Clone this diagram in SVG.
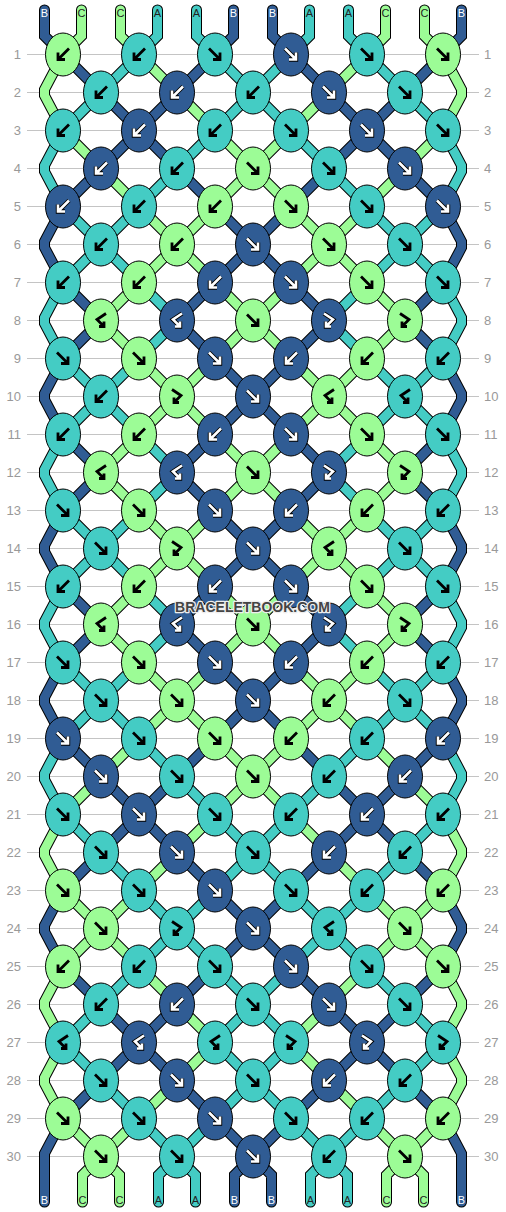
<svg xmlns="http://www.w3.org/2000/svg" xmlns:xlink="http://www.w3.org/1999/xlink" width="506" height="1212" viewBox="0 0 506 1212">
<style>
.ln{fill:none;stroke:#c4c4c4;stroke-width:1}
.lb{font-family:'Liberation Sans',Arial,sans-serif;font-size:13px;fill:#999}
.lbr{text-anchor:start}
.lbl{text-anchor:end}
.ol{fill:none;stroke:#000;stroke-width:11}
.st{fill:none;stroke-width:9}
.rc{stroke-linecap:round}
.sa{stroke:#44ccc4}.sb{stroke:#305c94}.sc{stroke:#9cfc96}
.ka{fill:#44ccc4}.kb{fill:#305c94}.kc{fill:#9cfc96}
ellipse{stroke:#000;stroke-width:1}
.tl{font-family:'Liberation Sans',Arial,sans-serif;font-size:11px;text-anchor:middle}
.tw{fill:#fff}.td{fill:#222}
.wm{font-family:'Liberation Sans',Arial,sans-serif;font-size:14px;font-weight:bold;text-anchor:middle;fill:#444;stroke:#eee;stroke-width:2.5;paint-order:stroke;stroke-linejoin:round}
</style>
<defs>
<path id="pB" fill="none" d="M6,-6L-5,5M-5,-2L-5,5L2,5"/>
<path id="pF" fill="none" d="M-6,-6L5,5M5,-2L5,5L-2,5"/>
<path id="pFB" fill="none" d="M-5,-7L4,-1L-3,6M-3,1L-3,6L2,6"/>
<path id="pBF" fill="none" d="M5,-7L-4,-1L3,6M3,1L3,6L-2,6"/>
<use id="Bk" href="#pB" stroke="#000" stroke-width="2.8"/>
<use id="Fk" href="#pF" stroke="#000" stroke-width="2.8"/>
<use id="FBk" href="#pFB" stroke="#000" stroke-width="2.8"/>
<use id="BFk" href="#pBF" stroke="#000" stroke-width="2.8"/>
<g id="Bw"><use href="#pB" stroke="#000" stroke-width="4.4"/><use href="#pB" stroke="#fff" stroke-width="2.6"/></g>
<g id="Fw"><use href="#pF" stroke="#000" stroke-width="4.4"/><use href="#pF" stroke="#fff" stroke-width="2.6"/></g>
<g id="FBw"><use href="#pFB" stroke="#000" stroke-width="4.4"/><use href="#pFB" stroke="#fff" stroke-width="2.6"/></g>
<g id="BFw"><use href="#pBF" stroke="#000" stroke-width="4.4"/><use href="#pBF" stroke="#fff" stroke-width="2.6"/></g>
<path id="oAll" d="M63 0L101 38L139 0L177 38L215 0L253 38L291 0L329 38L367 0L405 38L443 0"/>
<path id="eAll" d="M63 38L101 0L139 38L177 0L215 38L253 0L291 38L329 0L367 38L405 0L443 38"/>
<path id="edLR" d="M63 0L44.5 35L44.5 41L63 76M443 0L461.5 35L461.5 41L443 76"/>
<path id="oX" d="M63 0L101 38M139 0L101 38M367 0L405 38M443 0L405 38"/>
<path id="oY" d="M139 0L177 38M215 0L177 38M291 0L329 38M367 0L329 38"/>
<path id="oZ" d="M215 0L253 38M291 0L253 38"/>
<path id="oP" d="M63 0L101 38M215 0L177 38M291 0L329 38M443 0L405 38"/>
<path id="oQ" d="M139 0L101 38M215 0L253 38M291 0L253 38M367 0L405 38"/>
<path id="oR" d="M139 0L177 38M367 0L329 38"/>
<path id="oU" d="M63 0L101 38M215 0L253 38M291 0L253 38M443 0L405 38"/>
<path id="oV" d="M139 0L101 38M139 0L177 38M367 0L329 38M367 0L405 38"/>
<path id="oW" d="M215 0L177 38M291 0L329 38"/>
<path id="eX" d="M101 0L63 38M101 0L139 38M405 0L367 38M405 0L443 38"/>
<path id="eY" d="M177 0L139 38M177 0L215 38M329 0L291 38M329 0L367 38"/>
<path id="eZ" d="M253 0L215 38M253 0L291 38"/>
<path id="eP" d="M101 0L63 38M177 0L215 38M329 0L291 38M405 0L443 38"/>
<path id="eQ" d="M101 0L139 38M253 0L215 38M253 0L291 38M405 0L367 38"/>
<path id="eR" d="M177 0L139 38M329 0L367 38"/>
<path id="eU" d="M101 0L63 38M253 0L215 38M253 0L291 38M405 0L443 38"/>
<path id="eV" d="M101 0L139 38M177 0L139 38M329 0L367 38M405 0L367 38"/>
<path id="eW" d="M177 0L215 38M329 0L291 38"/>
<g id="goS0"><use href="#oX" class="sc"/><use href="#oY" class="sa"/><use href="#oZ" class="sb"/></g>
<g id="goS1"><use href="#oP" class="sb"/><use href="#oQ" class="sa"/><use href="#oR" class="sc"/></g>
<g id="goS2"><use href="#oU" class="sa"/><use href="#oV" class="sb"/><use href="#oW" class="sc"/></g>
<g id="goS3"><use href="#oU" class="sc"/><use href="#oV" class="sb"/><use href="#oW" class="sa"/></g>
<g id="goS4"><use href="#oP" class="sb"/><use href="#oQ" class="sc"/><use href="#oR" class="sa"/></g>
<g id="goS5"><use href="#oX" class="sa"/><use href="#oY" class="sc"/><use href="#oZ" class="sb"/></g>
<g id="geS0"><use href="#eX" class="sc"/><use href="#eY" class="sa"/><use href="#eZ" class="sb"/></g>
<g id="geS1"><use href="#eP" class="sb"/><use href="#eQ" class="sa"/><use href="#eR" class="sc"/></g>
<g id="geS2"><use href="#eU" class="sa"/><use href="#eV" class="sb"/><use href="#eW" class="sc"/></g>
<g id="geS3"><use href="#eU" class="sc"/><use href="#eV" class="sb"/><use href="#eW" class="sa"/></g>
<g id="geS4"><use href="#eP" class="sb"/><use href="#eQ" class="sc"/><use href="#eR" class="sa"/></g>
<g id="geS5"><use href="#eX" class="sa"/><use href="#eY" class="sc"/><use href="#eZ" class="sb"/></g>
</defs>
<rect width="506" height="1212" fill="#fff"/>
<g id="rows">
<path class="ln" d="M27 54.5H479M27 92.5H479M27 130.5H479M27 168.5H479M27 206.5H479M27 244.5H479M27 282.5H479M27 320.5H479M27 358.5H479M27 396.5H479M27 434.5H479M27 472.5H479M27 510.5H479M27 548.5H479M27 586.5H479M27 624.5H479M27 662.5H479M27 700.5H479M27 738.5H479M27 776.5H479M27 814.5H479M27 852.5H479M27 890.5H479M27 928.5H479M27 966.5H479M27 1004.5H479M27 1042.5H479M27 1080.5H479M27 1118.5H479M27 1156.5H479"/>
<g class="lb lbl">
<text x="21" y="59.3">1</text><text x="21" y="97.3">2</text><text x="21" y="135.3">3</text><text x="21" y="173.3">4</text><text x="21" y="211.3">5</text><text x="21" y="249.3">6</text><text x="21" y="287.3">7</text><text x="21" y="325.3">8</text><text x="21" y="363.3">9</text><text x="21" y="401.3">10</text><text x="21" y="439.3">11</text><text x="21" y="477.3">12</text><text x="21" y="515.3">13</text><text x="21" y="553.3">14</text><text x="21" y="591.3">15</text><text x="21" y="629.3">16</text><text x="21" y="667.3">17</text><text x="21" y="705.3">18</text><text x="21" y="743.3">19</text><text x="21" y="781.3">20</text><text x="21" y="819.3">21</text><text x="21" y="857.3">22</text><text x="21" y="895.3">23</text><text x="21" y="933.3">24</text><text x="21" y="971.3">25</text><text x="21" y="1009.3">26</text><text x="21" y="1047.3">27</text><text x="21" y="1085.3">28</text><text x="21" y="1123.3">29</text><text x="21" y="1161.3">30</text>
</g>
<g class="lb lbr">
<text x="484" y="59.3">1</text><text x="484" y="97.3">2</text><text x="484" y="135.3">3</text><text x="484" y="173.3">4</text><text x="484" y="211.3">5</text><text x="484" y="249.3">6</text><text x="484" y="287.3">7</text><text x="484" y="325.3">8</text><text x="484" y="363.3">9</text><text x="484" y="401.3">10</text><text x="484" y="439.3">11</text><text x="484" y="477.3">12</text><text x="484" y="515.3">13</text><text x="484" y="553.3">14</text><text x="484" y="591.3">15</text><text x="484" y="629.3">16</text><text x="484" y="667.3">17</text><text x="484" y="705.3">18</text><text x="484" y="743.3">19</text><text x="484" y="781.3">20</text><text x="484" y="819.3">21</text><text x="484" y="857.3">22</text><text x="484" y="895.3">23</text><text x="484" y="933.3">24</text><text x="484" y="971.3">25</text><text x="484" y="1009.3">26</text><text x="484" y="1047.3">27</text><text x="484" y="1085.3">28</text><text x="484" y="1123.3">29</text><text x="484" y="1161.3">30</text>
</g>
</g>
<g id="connectors">
<g class="ol">
<use href="#oAll" y="54.5"/><use href="#oAll" y="130.5"/><use href="#oAll" y="206.5"/><use href="#oAll" y="282.5"/><use href="#oAll" y="358.5"/><use href="#oAll" y="434.5"/><use href="#oAll" y="510.5"/><use href="#oAll" y="586.5"/><use href="#oAll" y="662.5"/><use href="#oAll" y="738.5"/><use href="#oAll" y="814.5"/><use href="#oAll" y="890.5"/><use href="#oAll" y="966.5"/><use href="#oAll" y="1042.5"/><use href="#oAll" y="1118.5"/>
<use href="#eAll" y="92.5"/><use href="#eAll" y="168.5"/><use href="#eAll" y="244.5"/><use href="#eAll" y="320.5"/><use href="#eAll" y="396.5"/><use href="#eAll" y="472.5"/><use href="#eAll" y="548.5"/><use href="#eAll" y="624.5"/><use href="#eAll" y="700.5"/><use href="#eAll" y="776.5"/><use href="#eAll" y="852.5"/><use href="#eAll" y="928.5"/><use href="#eAll" y="1004.5"/><use href="#eAll" y="1080.5"/>
<use href="#edLR" y="54.5"/><use href="#edLR" y="130.5"/><use href="#edLR" y="206.5"/><use href="#edLR" y="282.5"/><use href="#edLR" y="358.5"/><use href="#edLR" y="434.5"/><use href="#edLR" y="510.5"/><use href="#edLR" y="586.5"/><use href="#edLR" y="662.5"/><use href="#edLR" y="738.5"/><use href="#edLR" y="814.5"/><use href="#edLR" y="890.5"/><use href="#edLR" y="966.5"/><use href="#edLR" y="1042.5"/>
<path class="rc" d="M63 1118.5L44.5 1153.5L44.5 1202M443 1118.5L461.5 1153.5L461.5 1202"/>
<path class="rc" d="M44.5 10V36L63 54.5M233.5 10V36L215 54.5M272.5 10V36L291 54.5M461.5 10V36L443 54.5M81.5 10V36L63 54.5M120.5 10V36L139 54.5M385.5 10V36L367 54.5M424.5 10V36L443 54.5M157.5 10V36L139 54.5M196.5 10V36L215 54.5M309.5 10V36L291 54.5M348.5 10V36L367 54.5"/>
<path class="rc" d="M101 1156.5L82.5 1175V1202M101 1156.5L119.5 1175V1202M405 1156.5L386.5 1175V1202M405 1156.5L423.5 1175V1202M177 1156.5L158.5 1175V1202M177 1156.5L195.5 1175V1202M329 1156.5L310.5 1175V1202M329 1156.5L347.5 1175V1202M253 1156.5L234.5 1175V1202M253 1156.5L271.5 1175V1202"/>
</g>
<g class="st">
<use href="#goS1" y="54.5"/><use href="#geS2" y="92.5"/><use href="#goS3" y="130.5"/><use href="#geS4" y="168.5"/><use href="#goS5" y="206.5"/><use href="#geS5" y="244.5"/><use href="#goS4" y="282.5"/><use href="#geS4" y="320.5"/><use href="#goS5" y="358.5"/><use href="#geS5" y="396.5"/><use href="#goS4" y="434.5"/><use href="#geS4" y="472.5"/><use href="#goS5" y="510.5"/><use href="#geS5" y="548.5"/><use href="#goS4" y="586.5"/><use href="#geS4" y="624.5"/><use href="#goS5" y="662.5"/><use href="#geS5" y="700.5"/><use href="#goS4" y="738.5"/><use href="#geS3" y="776.5"/><use href="#goS2" y="814.5"/><use href="#geS1" y="852.5"/><use href="#goS0" y="890.5"/><use href="#geS0" y="928.5"/><use href="#goS1" y="966.5"/><use href="#geS2" y="1004.5"/><use href="#goS2" y="1042.5"/><use href="#geS1" y="1080.5"/><use href="#goS0" y="1118.5"/>
<use href="#edLR" y="54.5" class="sc"/><use href="#edLR" y="130.5" class="sa"/><use href="#edLR" y="206.5" class="sb"/><use href="#edLR" y="282.5" class="sa"/><use href="#edLR" y="358.5" class="sb"/><use href="#edLR" y="434.5" class="sa"/><use href="#edLR" y="510.5" class="sb"/><use href="#edLR" y="586.5" class="sa"/><use href="#edLR" y="662.5" class="sb"/><use href="#edLR" y="738.5" class="sa"/><use href="#edLR" y="814.5" class="sc"/><use href="#edLR" y="890.5" class="sb"/><use href="#edLR" y="966.5" class="sc"/><use href="#edLR" y="1042.5" class="sc"/>
<path class="rc sb" d="M63 1118.5L44.5 1153.5L44.5 1202M443 1118.5L461.5 1153.5L461.5 1202"/>
<path class="rc sb" d="M44.5 10V36L63 54.5M233.5 10V36L215 54.5M272.5 10V36L291 54.5M461.5 10V36L443 54.5"/>
<path class="rc sc" d="M81.5 10V36L63 54.5M120.5 10V36L139 54.5M385.5 10V36L367 54.5M424.5 10V36L443 54.5"/>
<path class="rc sa" d="M157.5 10V36L139 54.5M196.5 10V36L215 54.5M309.5 10V36L291 54.5M348.5 10V36L367 54.5"/>
<path class="rc sc" d="M101 1156.5L82.5 1175V1202M101 1156.5L119.5 1175V1202M405 1156.5L386.5 1175V1202M405 1156.5L423.5 1175V1202"/>
<path class="rc sa" d="M177 1156.5L158.5 1175V1202M177 1156.5L195.5 1175V1202M329 1156.5L310.5 1175V1202M329 1156.5L347.5 1175V1202"/>
<path class="rc sb" d="M253 1156.5L234.5 1175V1202M253 1156.5L271.5 1175V1202"/>
</g>
</g>
<g id="string-labels" class="tl">
<text class="tw" x="44.5" y="16.5">B</text><text class="td" x="81.5" y="16.5">C</text><text class="td" x="120.5" y="16.5">C</text><text class="td" x="157.5" y="16.5">A</text><text class="td" x="196.5" y="16.5">A</text><text class="tw" x="233.5" y="16.5">B</text><text class="tw" x="272.5" y="16.5">B</text><text class="td" x="309.5" y="16.5">A</text><text class="td" x="348.5" y="16.5">A</text><text class="td" x="385.5" y="16.5">C</text><text class="td" x="424.5" y="16.5">C</text><text class="tw" x="461.5" y="16.5">B</text>
<text class="tw" x="44.5" y="1204">B</text><text class="td" x="82.5" y="1204">C</text><text class="td" x="119.5" y="1204">C</text><text class="td" x="158.5" y="1204">A</text><text class="td" x="195.5" y="1204">A</text><text class="tw" x="234.5" y="1204">B</text><text class="tw" x="271.5" y="1204">B</text><text class="td" x="310.5" y="1204">A</text><text class="td" x="347.5" y="1204">A</text><text class="td" x="386.5" y="1204">C</text><text class="td" x="423.5" y="1204">C</text><text class="tw" x="461.5" y="1204">B</text>
</g>
<g id="knots">
<g id="n1-1" transform="translate(63 54.5)"><ellipse class="kc" rx="17.5" ry="21.5"/><use href="#Bk"/></g>
<g id="n1-2" transform="translate(139 54.5)"><ellipse class="ka" rx="17.5" ry="21.5"/><use href="#Bk"/></g>
<g id="n1-3" transform="translate(215 54.5)"><ellipse class="ka" rx="17.5" ry="21.5"/><use href="#Fk"/></g>
<g id="n1-4" transform="translate(291 54.5)"><ellipse class="kb" rx="17.5" ry="21.5"/><use href="#Fw"/></g>
<g id="n1-5" transform="translate(367 54.5)"><ellipse class="ka" rx="17.5" ry="21.5"/><use href="#Fk"/></g>
<g id="n1-6" transform="translate(443 54.5)"><ellipse class="kc" rx="17.5" ry="21.5"/><use href="#Fk"/></g>
<g id="n2-1" transform="translate(101 92.5)"><ellipse class="ka" rx="17.5" ry="21.5"/><use href="#Bk"/></g>
<g id="n2-2" transform="translate(177 92.5)"><ellipse class="kb" rx="17.5" ry="21.5"/><use href="#Bw"/></g>
<g id="n2-3" transform="translate(253 92.5)"><ellipse class="ka" rx="17.5" ry="21.5"/><use href="#Bk"/></g>
<g id="n2-4" transform="translate(329 92.5)"><ellipse class="kb" rx="17.5" ry="21.5"/><use href="#Fw"/></g>
<g id="n2-5" transform="translate(405 92.5)"><ellipse class="ka" rx="17.5" ry="21.5"/><use href="#Fk"/></g>
<g id="n3-1" transform="translate(63 130.5)"><ellipse class="ka" rx="17.5" ry="21.5"/><use href="#Bk"/></g>
<g id="n3-2" transform="translate(139 130.5)"><ellipse class="kb" rx="17.5" ry="21.5"/><use href="#Bw"/></g>
<g id="n3-3" transform="translate(215 130.5)"><ellipse class="ka" rx="17.5" ry="21.5"/><use href="#Bk"/></g>
<g id="n3-4" transform="translate(291 130.5)"><ellipse class="ka" rx="17.5" ry="21.5"/><use href="#Fk"/></g>
<g id="n3-5" transform="translate(367 130.5)"><ellipse class="kb" rx="17.5" ry="21.5"/><use href="#Fw"/></g>
<g id="n3-6" transform="translate(443 130.5)"><ellipse class="ka" rx="17.5" ry="21.5"/><use href="#Fk"/></g>
<g id="n4-1" transform="translate(101 168.5)"><ellipse class="kb" rx="17.5" ry="21.5"/><use href="#Bw"/></g>
<g id="n4-2" transform="translate(177 168.5)"><ellipse class="ka" rx="17.5" ry="21.5"/><use href="#Bk"/></g>
<g id="n4-3" transform="translate(253 168.5)"><ellipse class="kc" rx="17.5" ry="21.5"/><use href="#Fk"/></g>
<g id="n4-4" transform="translate(329 168.5)"><ellipse class="ka" rx="17.5" ry="21.5"/><use href="#Fk"/></g>
<g id="n4-5" transform="translate(405 168.5)"><ellipse class="kb" rx="17.5" ry="21.5"/><use href="#Fw"/></g>
<g id="n5-1" transform="translate(63 206.5)"><ellipse class="kb" rx="17.5" ry="21.5"/><use href="#Bw"/></g>
<g id="n5-2" transform="translate(139 206.5)"><ellipse class="ka" rx="17.5" ry="21.5"/><use href="#Bk"/></g>
<g id="n5-3" transform="translate(215 206.5)"><ellipse class="kc" rx="17.5" ry="21.5"/><use href="#Bk"/></g>
<g id="n5-4" transform="translate(291 206.5)"><ellipse class="kc" rx="17.5" ry="21.5"/><use href="#Fk"/></g>
<g id="n5-5" transform="translate(367 206.5)"><ellipse class="ka" rx="17.5" ry="21.5"/><use href="#Fk"/></g>
<g id="n5-6" transform="translate(443 206.5)"><ellipse class="kb" rx="17.5" ry="21.5"/><use href="#Fw"/></g>
<g id="n6-1" transform="translate(101 244.5)"><ellipse class="ka" rx="17.5" ry="21.5"/><use href="#Bk"/></g>
<g id="n6-2" transform="translate(177 244.5)"><ellipse class="kc" rx="17.5" ry="21.5"/><use href="#Bk"/></g>
<g id="n6-3" transform="translate(253 244.5)"><ellipse class="kb" rx="17.5" ry="21.5"/><use href="#Fw"/></g>
<g id="n6-4" transform="translate(329 244.5)"><ellipse class="kc" rx="17.5" ry="21.5"/><use href="#Fk"/></g>
<g id="n6-5" transform="translate(405 244.5)"><ellipse class="ka" rx="17.5" ry="21.5"/><use href="#Fk"/></g>
<g id="n7-1" transform="translate(63 282.5)"><ellipse class="ka" rx="17.5" ry="21.5"/><use href="#Bk"/></g>
<g id="n7-2" transform="translate(139 282.5)"><ellipse class="kc" rx="17.5" ry="21.5"/><use href="#Bk"/></g>
<g id="n7-3" transform="translate(215 282.5)"><ellipse class="kb" rx="17.5" ry="21.5"/><use href="#Bw"/></g>
<g id="n7-4" transform="translate(291 282.5)"><ellipse class="kb" rx="17.5" ry="21.5"/><use href="#Fw"/></g>
<g id="n7-5" transform="translate(367 282.5)"><ellipse class="kc" rx="17.5" ry="21.5"/><use href="#Fk"/></g>
<g id="n7-6" transform="translate(443 282.5)"><ellipse class="ka" rx="17.5" ry="21.5"/><use href="#Fk"/></g>
<g id="n8-1" transform="translate(101 320.5)"><ellipse class="kc" rx="17.5" ry="21.5"/><use href="#BFk"/></g>
<g id="n8-2" transform="translate(177 320.5)"><ellipse class="kb" rx="17.5" ry="21.5"/><use href="#BFw"/></g>
<g id="n8-3" transform="translate(253 320.5)"><ellipse class="kc" rx="17.5" ry="21.5"/><use href="#Fk"/></g>
<g id="n8-4" transform="translate(329 320.5)"><ellipse class="kb" rx="17.5" ry="21.5"/><use href="#FBw"/></g>
<g id="n8-5" transform="translate(405 320.5)"><ellipse class="kc" rx="17.5" ry="21.5"/><use href="#FBk"/></g>
<g id="n9-1" transform="translate(63 358.5)"><ellipse class="ka" rx="17.5" ry="21.5"/><use href="#Fk"/></g>
<g id="n9-2" transform="translate(139 358.5)"><ellipse class="kc" rx="17.5" ry="21.5"/><use href="#Fk"/></g>
<g id="n9-3" transform="translate(215 358.5)"><ellipse class="kb" rx="17.5" ry="21.5"/><use href="#Fw"/></g>
<g id="n9-4" transform="translate(291 358.5)"><ellipse class="kb" rx="17.5" ry="21.5"/><use href="#Bw"/></g>
<g id="n9-5" transform="translate(367 358.5)"><ellipse class="kc" rx="17.5" ry="21.5"/><use href="#Bk"/></g>
<g id="n9-6" transform="translate(443 358.5)"><ellipse class="ka" rx="17.5" ry="21.5"/><use href="#Bk"/></g>
<g id="n10-1" transform="translate(101 396.5)"><ellipse class="ka" rx="17.5" ry="21.5"/><use href="#Bk"/></g>
<g id="n10-2" transform="translate(177 396.5)"><ellipse class="kc" rx="17.5" ry="21.5"/><use href="#FBk"/></g>
<g id="n10-3" transform="translate(253 396.5)"><ellipse class="kb" rx="17.5" ry="21.5"/><use href="#Fw"/></g>
<g id="n10-4" transform="translate(329 396.5)"><ellipse class="kc" rx="17.5" ry="21.5"/><use href="#BFk"/></g>
<g id="n10-5" transform="translate(405 396.5)"><ellipse class="ka" rx="17.5" ry="21.5"/><use href="#BFk"/></g>
<g id="n11-1" transform="translate(63 434.5)"><ellipse class="ka" rx="17.5" ry="21.5"/><use href="#Bk"/></g>
<g id="n11-2" transform="translate(139 434.5)"><ellipse class="kc" rx="17.5" ry="21.5"/><use href="#Bk"/></g>
<g id="n11-3" transform="translate(215 434.5)"><ellipse class="kb" rx="17.5" ry="21.5"/><use href="#Bw"/></g>
<g id="n11-4" transform="translate(291 434.5)"><ellipse class="kb" rx="17.5" ry="21.5"/><use href="#Fw"/></g>
<g id="n11-5" transform="translate(367 434.5)"><ellipse class="kc" rx="17.5" ry="21.5"/><use href="#Fk"/></g>
<g id="n11-6" transform="translate(443 434.5)"><ellipse class="ka" rx="17.5" ry="21.5"/><use href="#Fk"/></g>
<g id="n12-1" transform="translate(101 472.5)"><ellipse class="kc" rx="17.5" ry="21.5"/><use href="#BFk"/></g>
<g id="n12-2" transform="translate(177 472.5)"><ellipse class="kb" rx="17.5" ry="21.5"/><use href="#BFw"/></g>
<g id="n12-3" transform="translate(253 472.5)"><ellipse class="kc" rx="17.5" ry="21.5"/><use href="#Fk"/></g>
<g id="n12-4" transform="translate(329 472.5)"><ellipse class="kb" rx="17.5" ry="21.5"/><use href="#FBw"/></g>
<g id="n12-5" transform="translate(405 472.5)"><ellipse class="kc" rx="17.5" ry="21.5"/><use href="#FBk"/></g>
<g id="n13-1" transform="translate(63 510.5)"><ellipse class="ka" rx="17.5" ry="21.5"/><use href="#Fk"/></g>
<g id="n13-2" transform="translate(139 510.5)"><ellipse class="kc" rx="17.5" ry="21.5"/><use href="#Fk"/></g>
<g id="n13-3" transform="translate(215 510.5)"><ellipse class="kb" rx="17.5" ry="21.5"/><use href="#Fw"/></g>
<g id="n13-4" transform="translate(291 510.5)"><ellipse class="kb" rx="17.5" ry="21.5"/><use href="#Bw"/></g>
<g id="n13-5" transform="translate(367 510.5)"><ellipse class="kc" rx="17.5" ry="21.5"/><use href="#Bk"/></g>
<g id="n13-6" transform="translate(443 510.5)"><ellipse class="ka" rx="17.5" ry="21.5"/><use href="#Bk"/></g>
<g id="n14-1" transform="translate(101 548.5)"><ellipse class="ka" rx="17.5" ry="21.5"/><use href="#Fk"/></g>
<g id="n14-2" transform="translate(177 548.5)"><ellipse class="kc" rx="17.5" ry="21.5"/><use href="#FBk"/></g>
<g id="n14-3" transform="translate(253 548.5)"><ellipse class="kb" rx="17.5" ry="21.5"/><use href="#Fw"/></g>
<g id="n14-4" transform="translate(329 548.5)"><ellipse class="kc" rx="17.5" ry="21.5"/><use href="#BFk"/></g>
<g id="n14-5" transform="translate(405 548.5)"><ellipse class="ka" rx="17.5" ry="21.5"/><use href="#Fk"/></g>
<g id="n15-1" transform="translate(63 586.5)"><ellipse class="ka" rx="17.5" ry="21.5"/><use href="#Bk"/></g>
<g id="n15-2" transform="translate(139 586.5)"><ellipse class="kc" rx="17.5" ry="21.5"/><use href="#Bk"/></g>
<g id="n15-3" transform="translate(215 586.5)"><ellipse class="kb" rx="17.5" ry="21.5"/><use href="#Bw"/></g>
<g id="n15-4" transform="translate(291 586.5)"><ellipse class="kb" rx="17.5" ry="21.5"/><use href="#Fw"/></g>
<g id="n15-5" transform="translate(367 586.5)"><ellipse class="kc" rx="17.5" ry="21.5"/><use href="#Fk"/></g>
<g id="n15-6" transform="translate(443 586.5)"><ellipse class="ka" rx="17.5" ry="21.5"/><use href="#Fk"/></g>
<g id="n16-1" transform="translate(101 624.5)"><ellipse class="kc" rx="17.5" ry="21.5"/><use href="#BFk"/></g>
<g id="n16-2" transform="translate(177 624.5)"><ellipse class="kb" rx="17.5" ry="21.5"/><use href="#BFw"/></g>
<g id="n16-3" transform="translate(253 624.5)"><ellipse class="kc" rx="17.5" ry="21.5"/><use href="#Fk"/></g>
<g id="n16-4" transform="translate(329 624.5)"><ellipse class="kb" rx="17.5" ry="21.5"/><use href="#FBw"/></g>
<g id="n16-5" transform="translate(405 624.5)"><ellipse class="kc" rx="17.5" ry="21.5"/><use href="#FBk"/></g>
<g id="n17-1" transform="translate(63 662.5)"><ellipse class="ka" rx="17.5" ry="21.5"/><use href="#Fk"/></g>
<g id="n17-2" transform="translate(139 662.5)"><ellipse class="kc" rx="17.5" ry="21.5"/><use href="#Fk"/></g>
<g id="n17-3" transform="translate(215 662.5)"><ellipse class="kb" rx="17.5" ry="21.5"/><use href="#Fw"/></g>
<g id="n17-4" transform="translate(291 662.5)"><ellipse class="kb" rx="17.5" ry="21.5"/><use href="#Bw"/></g>
<g id="n17-5" transform="translate(367 662.5)"><ellipse class="kc" rx="17.5" ry="21.5"/><use href="#Bk"/></g>
<g id="n17-6" transform="translate(443 662.5)"><ellipse class="ka" rx="17.5" ry="21.5"/><use href="#Bk"/></g>
<g id="n18-1" transform="translate(101 700.5)"><ellipse class="ka" rx="17.5" ry="21.5"/><use href="#Fk"/></g>
<g id="n18-2" transform="translate(177 700.5)"><ellipse class="kc" rx="17.5" ry="21.5"/><use href="#Fk"/></g>
<g id="n18-3" transform="translate(253 700.5)"><ellipse class="kb" rx="17.5" ry="21.5"/><use href="#Fw"/></g>
<g id="n18-4" transform="translate(329 700.5)"><ellipse class="kc" rx="17.5" ry="21.5"/><use href="#Bk"/></g>
<g id="n18-5" transform="translate(405 700.5)"><ellipse class="ka" rx="17.5" ry="21.5"/><use href="#Fk"/></g>
<g id="n19-1" transform="translate(63 738.5)"><ellipse class="kb" rx="17.5" ry="21.5"/><use href="#Fw"/></g>
<g id="n19-2" transform="translate(139 738.5)"><ellipse class="ka" rx="17.5" ry="21.5"/><use href="#Fk"/></g>
<g id="n19-3" transform="translate(215 738.5)"><ellipse class="kc" rx="17.5" ry="21.5"/><use href="#Fk"/></g>
<g id="n19-4" transform="translate(291 738.5)"><ellipse class="kc" rx="17.5" ry="21.5"/><use href="#Bk"/></g>
<g id="n19-5" transform="translate(367 738.5)"><ellipse class="ka" rx="17.5" ry="21.5"/><use href="#Bk"/></g>
<g id="n19-6" transform="translate(443 738.5)"><ellipse class="kb" rx="17.5" ry="21.5"/><use href="#Bw"/></g>
<g id="n20-1" transform="translate(101 776.5)"><ellipse class="kb" rx="17.5" ry="21.5"/><use href="#Fw"/></g>
<g id="n20-2" transform="translate(177 776.5)"><ellipse class="ka" rx="17.5" ry="21.5"/><use href="#Fk"/></g>
<g id="n20-3" transform="translate(253 776.5)"><ellipse class="kc" rx="17.5" ry="21.5"/><use href="#Fk"/></g>
<g id="n20-4" transform="translate(329 776.5)"><ellipse class="ka" rx="17.5" ry="21.5"/><use href="#Bk"/></g>
<g id="n20-5" transform="translate(405 776.5)"><ellipse class="kb" rx="17.5" ry="21.5"/><use href="#Bw"/></g>
<g id="n21-1" transform="translate(63 814.5)"><ellipse class="ka" rx="17.5" ry="21.5"/><use href="#Fk"/></g>
<g id="n21-2" transform="translate(139 814.5)"><ellipse class="kb" rx="17.5" ry="21.5"/><use href="#Fw"/></g>
<g id="n21-3" transform="translate(215 814.5)"><ellipse class="ka" rx="17.5" ry="21.5"/><use href="#Fk"/></g>
<g id="n21-4" transform="translate(291 814.5)"><ellipse class="ka" rx="17.5" ry="21.5"/><use href="#Bk"/></g>
<g id="n21-5" transform="translate(367 814.5)"><ellipse class="kb" rx="17.5" ry="21.5"/><use href="#Bw"/></g>
<g id="n21-6" transform="translate(443 814.5)"><ellipse class="ka" rx="17.5" ry="21.5"/><use href="#Bk"/></g>
<g id="n22-1" transform="translate(101 852.5)"><ellipse class="ka" rx="17.5" ry="21.5"/><use href="#Fk"/></g>
<g id="n22-2" transform="translate(177 852.5)"><ellipse class="kb" rx="17.5" ry="21.5"/><use href="#Fw"/></g>
<g id="n22-3" transform="translate(253 852.5)"><ellipse class="ka" rx="17.5" ry="21.5"/><use href="#Fk"/></g>
<g id="n22-4" transform="translate(329 852.5)"><ellipse class="kb" rx="17.5" ry="21.5"/><use href="#Bw"/></g>
<g id="n22-5" transform="translate(405 852.5)"><ellipse class="ka" rx="17.5" ry="21.5"/><use href="#Bk"/></g>
<g id="n23-1" transform="translate(63 890.5)"><ellipse class="kc" rx="17.5" ry="21.5"/><use href="#Fk"/></g>
<g id="n23-2" transform="translate(139 890.5)"><ellipse class="ka" rx="17.5" ry="21.5"/><use href="#Fk"/></g>
<g id="n23-3" transform="translate(215 890.5)"><ellipse class="kb" rx="17.5" ry="21.5"/><use href="#Fw"/></g>
<g id="n23-4" transform="translate(291 890.5)"><ellipse class="ka" rx="17.5" ry="21.5"/><use href="#Fk"/></g>
<g id="n23-5" transform="translate(367 890.5)"><ellipse class="ka" rx="17.5" ry="21.5"/><use href="#Bk"/></g>
<g id="n23-6" transform="translate(443 890.5)"><ellipse class="kc" rx="17.5" ry="21.5"/><use href="#Bk"/></g>
<g id="n24-1" transform="translate(101 928.5)"><ellipse class="kc" rx="17.5" ry="21.5"/><use href="#Fk"/></g>
<g id="n24-2" transform="translate(177 928.5)"><ellipse class="ka" rx="17.5" ry="21.5"/><use href="#FBk"/></g>
<g id="n24-3" transform="translate(253 928.5)"><ellipse class="kb" rx="17.5" ry="21.5"/><use href="#Fw"/></g>
<g id="n24-4" transform="translate(329 928.5)"><ellipse class="ka" rx="17.5" ry="21.5"/><use href="#BFk"/></g>
<g id="n24-5" transform="translate(405 928.5)"><ellipse class="kc" rx="17.5" ry="21.5"/><use href="#Fk"/></g>
<g id="n25-1" transform="translate(63 966.5)"><ellipse class="kc" rx="17.5" ry="21.5"/><use href="#Bk"/></g>
<g id="n25-2" transform="translate(139 966.5)"><ellipse class="ka" rx="17.5" ry="21.5"/><use href="#Bk"/></g>
<g id="n25-3" transform="translate(215 966.5)"><ellipse class="ka" rx="17.5" ry="21.5"/><use href="#Fk"/></g>
<g id="n25-4" transform="translate(291 966.5)"><ellipse class="kb" rx="17.5" ry="21.5"/><use href="#Fw"/></g>
<g id="n25-5" transform="translate(367 966.5)"><ellipse class="ka" rx="17.5" ry="21.5"/><use href="#Fk"/></g>
<g id="n25-6" transform="translate(443 966.5)"><ellipse class="kc" rx="17.5" ry="21.5"/><use href="#Fk"/></g>
<g id="n26-1" transform="translate(101 1004.5)"><ellipse class="ka" rx="17.5" ry="21.5"/><use href="#Bk"/></g>
<g id="n26-2" transform="translate(177 1004.5)"><ellipse class="kb" rx="17.5" ry="21.5"/><use href="#Bw"/></g>
<g id="n26-3" transform="translate(253 1004.5)"><ellipse class="ka" rx="17.5" ry="21.5"/><use href="#Fk"/></g>
<g id="n26-4" transform="translate(329 1004.5)"><ellipse class="kb" rx="17.5" ry="21.5"/><use href="#Fw"/></g>
<g id="n26-5" transform="translate(405 1004.5)"><ellipse class="ka" rx="17.5" ry="21.5"/><use href="#Fk"/></g>
<g id="n27-1" transform="translate(63 1042.5)"><ellipse class="ka" rx="17.5" ry="21.5"/><use href="#BFk"/></g>
<g id="n27-2" transform="translate(139 1042.5)"><ellipse class="kb" rx="17.5" ry="21.5"/><use href="#BFw"/></g>
<g id="n27-3" transform="translate(215 1042.5)"><ellipse class="ka" rx="17.5" ry="21.5"/><use href="#BFk"/></g>
<g id="n27-4" transform="translate(291 1042.5)"><ellipse class="ka" rx="17.5" ry="21.5"/><use href="#FBk"/></g>
<g id="n27-5" transform="translate(367 1042.5)"><ellipse class="kb" rx="17.5" ry="21.5"/><use href="#FBw"/></g>
<g id="n27-6" transform="translate(443 1042.5)"><ellipse class="ka" rx="17.5" ry="21.5"/><use href="#FBk"/></g>
<g id="n28-1" transform="translate(101 1080.5)"><ellipse class="ka" rx="17.5" ry="21.5"/><use href="#Fk"/></g>
<g id="n28-2" transform="translate(177 1080.5)"><ellipse class="kb" rx="17.5" ry="21.5"/><use href="#Fw"/></g>
<g id="n28-3" transform="translate(253 1080.5)"><ellipse class="ka" rx="17.5" ry="21.5"/><use href="#Fk"/></g>
<g id="n28-4" transform="translate(329 1080.5)"><ellipse class="kb" rx="17.5" ry="21.5"/><use href="#Bw"/></g>
<g id="n28-5" transform="translate(405 1080.5)"><ellipse class="ka" rx="17.5" ry="21.5"/><use href="#Bk"/></g>
<g id="n29-1" transform="translate(63 1118.5)"><ellipse class="kc" rx="17.5" ry="21.5"/><use href="#Fk"/></g>
<g id="n29-2" transform="translate(139 1118.5)"><ellipse class="ka" rx="17.5" ry="21.5"/><use href="#Fk"/></g>
<g id="n29-3" transform="translate(215 1118.5)"><ellipse class="kb" rx="17.5" ry="21.5"/><use href="#Fw"/></g>
<g id="n29-4" transform="translate(291 1118.5)"><ellipse class="ka" rx="17.5" ry="21.5"/><use href="#Fk"/></g>
<g id="n29-5" transform="translate(367 1118.5)"><ellipse class="ka" rx="17.5" ry="21.5"/><use href="#Bk"/></g>
<g id="n29-6" transform="translate(443 1118.5)"><ellipse class="kc" rx="17.5" ry="21.5"/><use href="#Bk"/></g>
<g id="n30-1" transform="translate(101 1156.5)"><ellipse class="kc" rx="17.5" ry="21.5"/><use href="#Fk"/></g>
<g id="n30-2" transform="translate(177 1156.5)"><ellipse class="ka" rx="17.5" ry="21.5"/><use href="#Fk"/></g>
<g id="n30-3" transform="translate(253 1156.5)"><ellipse class="kb" rx="17.5" ry="21.5"/><use href="#Fw"/></g>
<g id="n30-4" transform="translate(329 1156.5)"><ellipse class="ka" rx="17.5" ry="21.5"/><use href="#Bk"/></g>
<g id="n30-5" transform="translate(405 1156.5)"><ellipse class="kc" rx="17.5" ry="21.5"/><use href="#Fk"/></g>
</g>
<g id="watermark"><text class="wm" x="252.5" y="612">BRACELETBOOK.COM</text></g>
</svg>
